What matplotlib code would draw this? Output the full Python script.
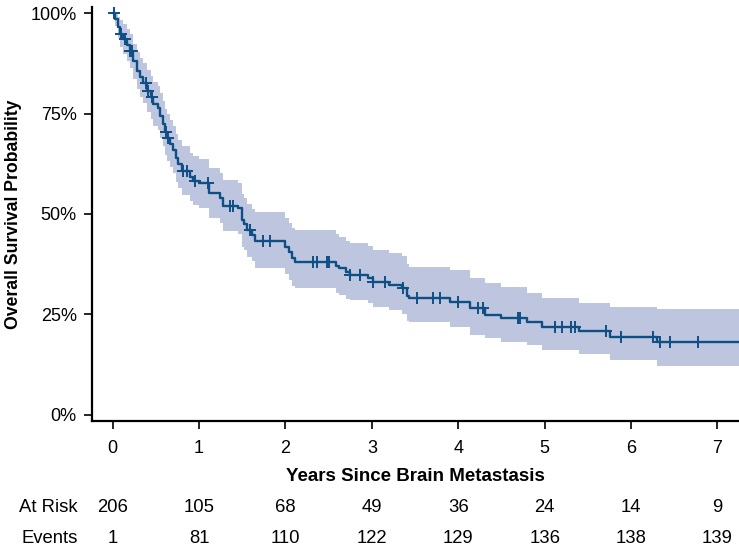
import matplotlib
matplotlib.use("Agg")
import matplotlib.pyplot as plt
import numpy as np

# Kaplan-Meier steps (years, survival %), with 95% CI band
times = [0.00, 0.03, 0.06, 0.08, 0.12, 0.16, 0.20, 0.24, 0.28, 0.32, 0.35, 0.40,
         0.44, 0.47, 0.52, 0.55, 0.58, 0.61, 0.63, 0.66, 0.70, 0.73, 0.76, 0.80,
         0.90, 0.93, 1.00, 1.12, 1.24, 1.28, 1.45, 1.50, 1.52, 1.55, 1.61, 1.65,
         2.00, 2.04, 2.08, 2.11, 2.58, 2.62, 2.70, 2.75, 2.95, 3.01, 3.20, 3.35,
         3.41, 3.43, 3.90, 4.14, 4.31, 4.49, 4.80, 4.97, 5.40, 5.76, 6.30]
surv = [100.0, 98.5, 96.5, 94.8, 93.5, 92.0, 90.6, 88.0, 85.6, 84.0, 82.6, 80.6,
        79.0, 77.4, 76.4, 74.5, 72.5, 70.5, 69.0, 67.5, 66.0, 64.0, 62.5, 60.8,
        59.3, 58.3, 57.6, 55.3, 54.1, 52.1, 51.4, 48.4, 47.5, 45.9, 44.7, 43.2,
        41.8, 40.5, 39.0, 38.0, 37.0, 36.5, 35.5, 34.7, 34.0, 33.0, 32.3, 31.5,
        29.6, 29.0, 28.0, 26.6, 24.8, 24.1, 23.1, 21.8, 20.8, 19.4, 18.2]
upper = [100.0, 100.0, 99.0, 98.2, 97.2, 96.0, 94.8, 92.4, 90.2, 88.8, 87.5, 85.8,
         84.3, 82.8, 81.8, 80.0, 78.2, 76.2, 74.8, 73.4, 71.9, 70.0, 68.5, 66.8,
         65.3, 64.4, 63.7, 61.5, 60.3, 58.4, 57.8, 54.9, 54.0, 52.4, 51.2, 50.4,
         49.0, 47.8, 46.4, 46.0, 45.0, 44.2, 43.3, 42.7, 42.0, 41.0, 40.3, 39.5,
         37.6, 36.7, 36.0, 34.0, 32.8, 31.8, 30.3, 29.0, 27.8, 26.9, 26.3]
lower = [100.0, 96.8, 93.8, 91.5, 89.8, 88.0, 86.4, 83.6, 81.0, 79.2, 77.7, 75.4,
         73.7, 72.0, 70.9, 68.9, 66.8, 64.8, 63.2, 61.7, 60.1, 58.0, 56.5, 54.8,
         53.2, 52.2, 51.4, 49.0, 47.8, 45.7, 45.0, 41.9, 41.0, 39.4, 38.2, 36.5,
         35.0, 33.5, 32.2, 31.5, 30.3, 29.8, 28.9, 28.5, 27.8, 26.8, 26.0, 25.0,
         23.4, 23.1, 21.8, 19.9, 19.1, 18.1, 17.4, 16.1, 15.1, 13.6, 12.2]
censored = [0.02, 0.10, 0.14, 0.20, 0.22, 0.39, 0.41, 0.46, 0.62, 0.64, 0.81, 0.86,
            0.95, 1.10, 1.36, 1.39, 1.59, 1.74, 1.82, 2.32, 2.36, 2.48, 2.50, 2.75,
            2.86, 3.01, 3.15, 3.36, 3.52, 3.71, 3.79, 4.00, 4.23, 4.29, 4.69, 4.72,
            5.12, 5.20, 5.30, 5.35, 5.71, 5.88, 6.25, 6.34, 6.45, 6.78]

risk_years = [0, 1, 2, 3, 4, 5, 6, 7]
at_risk = [206, 105, 68, 49, 36, 24, 14, 9]
events = [1, 81, 110, 122, 129, 136, 138, 139]

x_end = 7.25
line_col = "#0f4f86"
band_col = "#bdc6de"
font = ["Liberation Sans", "DejaVu Sans"]

fig = plt.figure(figsize=(7.39, 5.54), dpi=100)
ax = fig.add_axes([92/739, 1 - 421/554, 1 - 92/739, (421 - 7)/554])

t_ext = times + [x_end]
s_ext = surv + [surv[-1]]
u_ext = upper + [upper[-1]]
l_ext = lower + [lower[-1]]

ax.fill_between(t_ext, l_ext, u_ext, step="post", color=band_col, lw=0)
ax.step(t_ext, s_ext, where="post", color=line_col, lw=1.7)

# censor ticks sit on the curve
idx = np.searchsorted(times, censored, side="right") - 1
cens_y = np.array(surv)[idx]
ax.plot(censored, cens_y, ls="none", marker="+", ms=8, mew=1.4, color=line_col)

ax.set_xlim(-0.24, x_end)
ax.set_ylim(-1.5, 101.5)
ax.set_xticks(risk_years)
ax.set_yticks([0, 25, 50, 75, 100])
ax.set_yticklabels(["0%", "25%", "50%", "75%", "100%"], family=font, fontsize=13)
ax.set_xticklabels([str(v) for v in risk_years], family=font, fontsize=13)
ax.tick_params(direction="out", length=6, width=1.2, pad=5)
ax.tick_params(axis="x", pad=8)
for side in ["top", "right"]:
    ax.spines[side].set_visible(False)
for side in ["left", "bottom"]:
    ax.spines[side].set_linewidth(1.6)

ax.set_ylabel("Overall Survival Probability", family=font, fontweight="bold", fontsize=12.7)
ax.yaxis.set_label_coords(-0.108, 0.5)
ax.set_xlabel("Years Since Brain Metastasis", family=font, fontweight="bold", fontsize=13.5)
ax.xaxis.set_label_coords(0.5, -0.114)

# number-at-risk table
tr = ax.get_xaxis_transform()
for yv, name, vals in [(-0.209, "At Risk", at_risk), (-0.285, "Events", events)]:
    ax.text(-0.0216, yv, name, transform=ax.transAxes, ha="right", va="center",
            family=font, fontsize=13.3, clip_on=False)
    for xv, v in zip(risk_years, vals):
        ax.text(xv, yv, str(v), transform=tr, ha="center", va="center",
                family=font, fontsize=13.3, clip_on=False)

fig.savefig("out.png", dpi=100)
